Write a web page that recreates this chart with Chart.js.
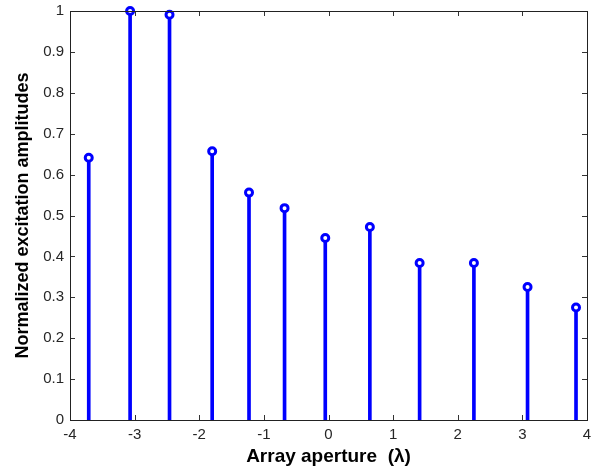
<!DOCTYPE html>
<html>
<head>
<meta charset="utf-8">
<script src="https://cdn.jsdelivr.net/npm/chart.js@4/dist/chart.umd.min.js"></script>
<style>
html,body{margin:0;padding:0;background:#fff;}
#wrap{width:607px;height:468px;position:relative;}
</style>
</head>
<body>
<div id="wrap"><canvas id="c" width="607" height="468"></canvas></div>
<script>
const xPositions = [-3.71, -3.07, -2.46, -1.80, -1.23, -0.68, -0.05, 0.64, 1.41, 2.25, 3.08, 3.83];
const amplitudes = [0.641, 1.0, 0.991, 0.657, 0.556, 0.518, 0.445, 0.472, 0.384, 0.384, 0.325, 0.275];
const xTicks = [-4, -3, -2, -1, 0, 1, 2, 3, 4];
const yTicks = [0, 0.1, 0.2, 0.3, 0.4, 0.5, 0.6, 0.7, 0.8, 0.9, 1];
const xLabel = 'Array aperture  (\u03bb)';
const yLabel = 'Normalized excitation amplitudes';

const points = xPositions.map((x, i) => ({x: x, y: amplitudes[i]}));

const boxPlugin = {
  id: 'box',
  afterDraw(chart) {
    const {ctx, chartArea: a, scales} = chart;
    ctx.save();
    ctx.strokeStyle = '#333';
    ctx.lineWidth = 1;
    ctx.beginPath();
    const tl = 5;
    xTicks.forEach(v => {
      const px = Math.round(scales.x.getPixelForValue(v)) + 0.5;
      ctx.moveTo(px, a.bottom); ctx.lineTo(px, a.bottom - tl);
      ctx.moveTo(px, a.top); ctx.lineTo(px, a.top + tl);
    });
    yTicks.forEach(v => {
      const py = Math.round(scales.y.getPixelForValue(v)) + 0.5;
      ctx.moveTo(a.left, py); ctx.lineTo(a.left + tl, py);
      ctx.moveTo(a.right, py); ctx.lineTo(a.right - tl, py);
    });
    ctx.stroke();
    ctx.strokeStyle = '#222';
    ctx.strokeRect(Math.round(a.left) + 0.5, Math.round(a.top) + 0.5, Math.round(a.right - a.left), Math.round(a.bottom - a.top));
    ctx.restore();
  }
};

new Chart(document.getElementById('c'), {
  data: {
    datasets: [
      {
        type: 'bar',
        data: points,
        backgroundColor: '#0000ff',
        borderWidth: 0,
        barThickness: 3,
        clip: false,
        order: 2
      },
      {
        type: 'scatter',
        data: points,
        pointRadius: 3.5,
        pointBorderWidth: 3,
        pointBorderColor: '#0000ff',
        pointBackgroundColor: '#ffffff',
        showLine: false,
        clip: false,
        order: 1
      }
    ]
  },
  options: {
    responsive: false,
    animation: false,
    devicePixelRatio: 1,
    layout: {padding: {top: 11, right: 20, left: 0, bottom: 0}},
    plugins: {legend: {display: false}, tooltip: {enabled: false}},
    scales: {
      x: {
        type: 'linear',
        min: -4, max: 4,
        offset: false,
        afterBuildTicks: s => { s.ticks = xTicks.map(v => ({value: v})); },
        afterFit: s => { s.height = 48; s.paddingRight = 0; s.paddingLeft = 0; },
        grid: {display: false, drawTicks: false, offset: false},
        border: {display: false},
        ticks: {padding: 6, color: '#262626', font: {family: 'Liberation Sans', size: 15}, maxRotation: 0,
                callback: v => String(v)},
        title: {display: true, text: xLabel, color: '#000', font: {family: 'Liberation Sans', size: 19, weight: 'bold'}, padding: {top: 0, bottom: 0}}
      },
      y: {
        type: 'linear',
        min: 0, max: 1,
        afterBuildTicks: s => { s.ticks = yTicks.map(v => ({value: v})); },
        afterFit: s => { s.width = 70; s.paddingTop = 0; s.paddingBottom = 0; },
        grid: {display: false, drawTicks: false},
        border: {display: false},
        ticks: {padding: 6, color: '#262626', font: {family: 'Liberation Sans', size: 15},
                callback: v => String(Math.round(v * 10) / 10)},
        title: {display: true, text: yLabel, color: '#000', font: {family: 'Liberation Sans', size: 18, weight: 'bold'}, padding: {top: 12, bottom: 0}}
      }
    }
  },
  plugins: [boxPlugin]
});
</script>
</body>
</html>
